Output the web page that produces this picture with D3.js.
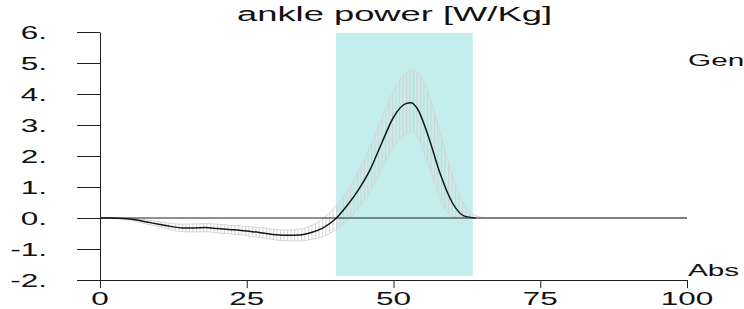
<!DOCTYPE html>
<html>
<head>
<meta charset="utf-8">
<script src="https://cdn.jsdelivr.net/npm/d3@7"></script>
<style>
  body { margin: 0; background: #fff; }
  svg { display: block; font-family: "Liberation Sans", Arial, sans-serif; }
</style>
</head>
<body>
<div class="wrapper"></div>
<script>
// % of gait cycle
var cycle = [0, 2, 4, 6, 8, 10, 12, 14, 16, 18, 20, 22, 24, 26, 28, 30, 32, 34, 36, 38,
  40, 42, 44, 46, 48, 50, 52, 53, 54, 56, 58, 60, 62, 64, 66, 70, 80, 90, 100];
// mean ankle power
var power = [0, 0, -0.02, -0.06, -0.13, -0.2, -0.27, -0.32, -0.32, -0.31, -0.34, -0.37, -0.4, -0.44, -0.49, -0.54, -0.56, -0.55, -0.47, -0.32,
  -0.05, 0.38, 0.9, 1.55, 2.42, 3.25, 3.68, 3.72, 3.55, 2.6, 1.4, 0.5, 0.07, 0, 0, 0, 0, 0, 0];
// mean + sd / mean - sd
var powerHi = [0, 0, 0, -0.02, -0.06, -0.12, -0.17, -0.2, -0.19, -0.18, -0.2, -0.23, -0.26, -0.29, -0.33, -0.37, -0.39, -0.36, -0.25, -0.02,
  0.35, 0.85, 1.5, 2.3, 3.2, 4.1, 4.65, 4.77, 4.72, 4.0, 2.7, 1.4, 0.45, 0.08, 0, 0, 0, 0, 0];
var powerLo = [0, 0, -0.04, -0.1, -0.2, -0.28, -0.37, -0.44, -0.45, -0.44, -0.48, -0.51, -0.54, -0.59, -0.65, -0.71, -0.74, -0.74, -0.69, -0.6,
  -0.4, -0.1, 0.3, 0.85, 1.6, 2.3, 2.7, 2.8, 2.65, 1.7, 0.6, 0.05, 0, 0, 0, 0, 0, 0, 0];
var xTicks = [0, 25, 50, 75, 100];
var yTicks = [-2, -1, 0, 1, 2, 3, 4, 5, 6];
var phase = [40.2, 63.5];   // shaded push-off window
var phaseY = [-1.87, 5.97];

var W = 744, H = 309;
var x = d3.scaleLinear().domain([0, 100]).range([100, 687]);
var y = d3.scaleLinear().domain([-2, 6]).range([280, 32]);
var SX = 1.75; // the original lettering is stretched sideways

var svg = d3.select(".wrapper").append("svg").attr("width", W).attr("height", H);

var defs = svg.append("defs");
defs.append("pattern")
  .attr("id", "hatch")
  .attr("patternUnits", "userSpaceOnUse")
  .attr("width", 3.5).attr("height", 4)
  .append("line")
  .attr("x1", 0.5).attr("x2", 0.5).attr("y1", 0).attr("y2", 4)
  .attr("stroke", "#d2d2d2").attr("stroke-width", 1);

function label (sel, txt, px, py, size, anchor) {
  return sel.append("text")
    .attr("transform", "translate(" + px + "," + py + ") scale(" + SX + ",1)")
    .attr("text-anchor", anchor)
    .attr("font-size", size)
    .attr("fill", "#111")
    .text(txt);
}

// shaded band
svg.append("rect")
  .attr("x", x(phase[0])).attr("width", x(phase[1]) - x(phase[0]))
  .attr("y", y(phaseY[1])).attr("height", y(phaseY[0]) - y(phaseY[1]))
  .attr("fill", "#c4eded");

var pts = cycle.map(function (c, i) { return { c: c, m: power[i], hi: powerHi[i], lo: powerLo[i] }; });

// sd band
svg.append("path").datum(pts)
  .attr("d", d3.area().curve(d3.curveMonotoneX)
    .x(function (d) { return x(d.c); })
    .y0(function (d) { return y(d.lo); })
    .y1(function (d) { return y(d.hi); }))
  .attr("fill", "url(#hatch)");

["hi", "lo"].forEach(function (k) {
  svg.append("path").datum(pts)
    .attr("d", d3.line().curve(d3.curveMonotoneX)
      .x(function (d) { return x(d.c); })
      .y(function (d) { return y(d[k]); }))
    .attr("fill", "none").attr("stroke", "#d6d6d6").attr("stroke-width", 1);
});

// zero line
svg.append("line")
  .attr("x1", x(0)).attr("x2", x(100))
  .attr("y1", y(0)).attr("y2", y(0))
  .attr("stroke", "#222").attr("stroke-width", 1);

// mean (only where it leaves the zero line)
svg.append("path").datum(pts.filter(function (d) { return d.c <= 64; }))
  .attr("d", d3.line().curve(d3.curveMonotoneX)
    .x(function (d) { return x(d.c); })
    .y(function (d) { return y(d.m); }))
  .attr("fill", "none").attr("stroke", "#0d1a1a").attr("stroke-width", 1.5);

// y axis
var yAx = svg.append("g")
  .attr("transform", "translate(" + x(0) + ",0)")
  .call(d3.axisLeft(y).tickValues(yTicks).tickSize(23).tickSizeOuter(0).tickFormat(""));
yAx.select(".domain").attr("stroke", "#222");
yAx.selectAll(".tick line").attr("stroke", "#222");

yTicks.forEach(function (t) {
  label(svg, t + ".", 47, y(t) + 6.5, 18, "end");
});

// x axis
var xAx = svg.append("g")
  .attr("transform", "translate(0," + y(-2) + ")")
  .call(d3.axisBottom(x).tickValues(xTicks).tickSize(8).tickSizeOuter(0).tickFormat(""));
xAx.select(".domain").attr("stroke", "#222");
xAx.selectAll(".tick line").attr("stroke", "#222");

xTicks.forEach(function (t) {
  label(svg, t, x(t), 305, 18, "middle");
});

// title + side notes
svg.append("text")
  .attr("x", 237).attr("y", 21)
  .attr("font-size", 20)
  .attr("textLength", 315).attr("lengthAdjust", "spacingAndGlyphs")
  .attr("fill", "#111")
  .text("ankle power [W/Kg]");

label(svg, "Gen", 688, 66, 17, "start");
label(svg, "Abs", 688, 276, 17, "start");
</script>
</body>
</html>
